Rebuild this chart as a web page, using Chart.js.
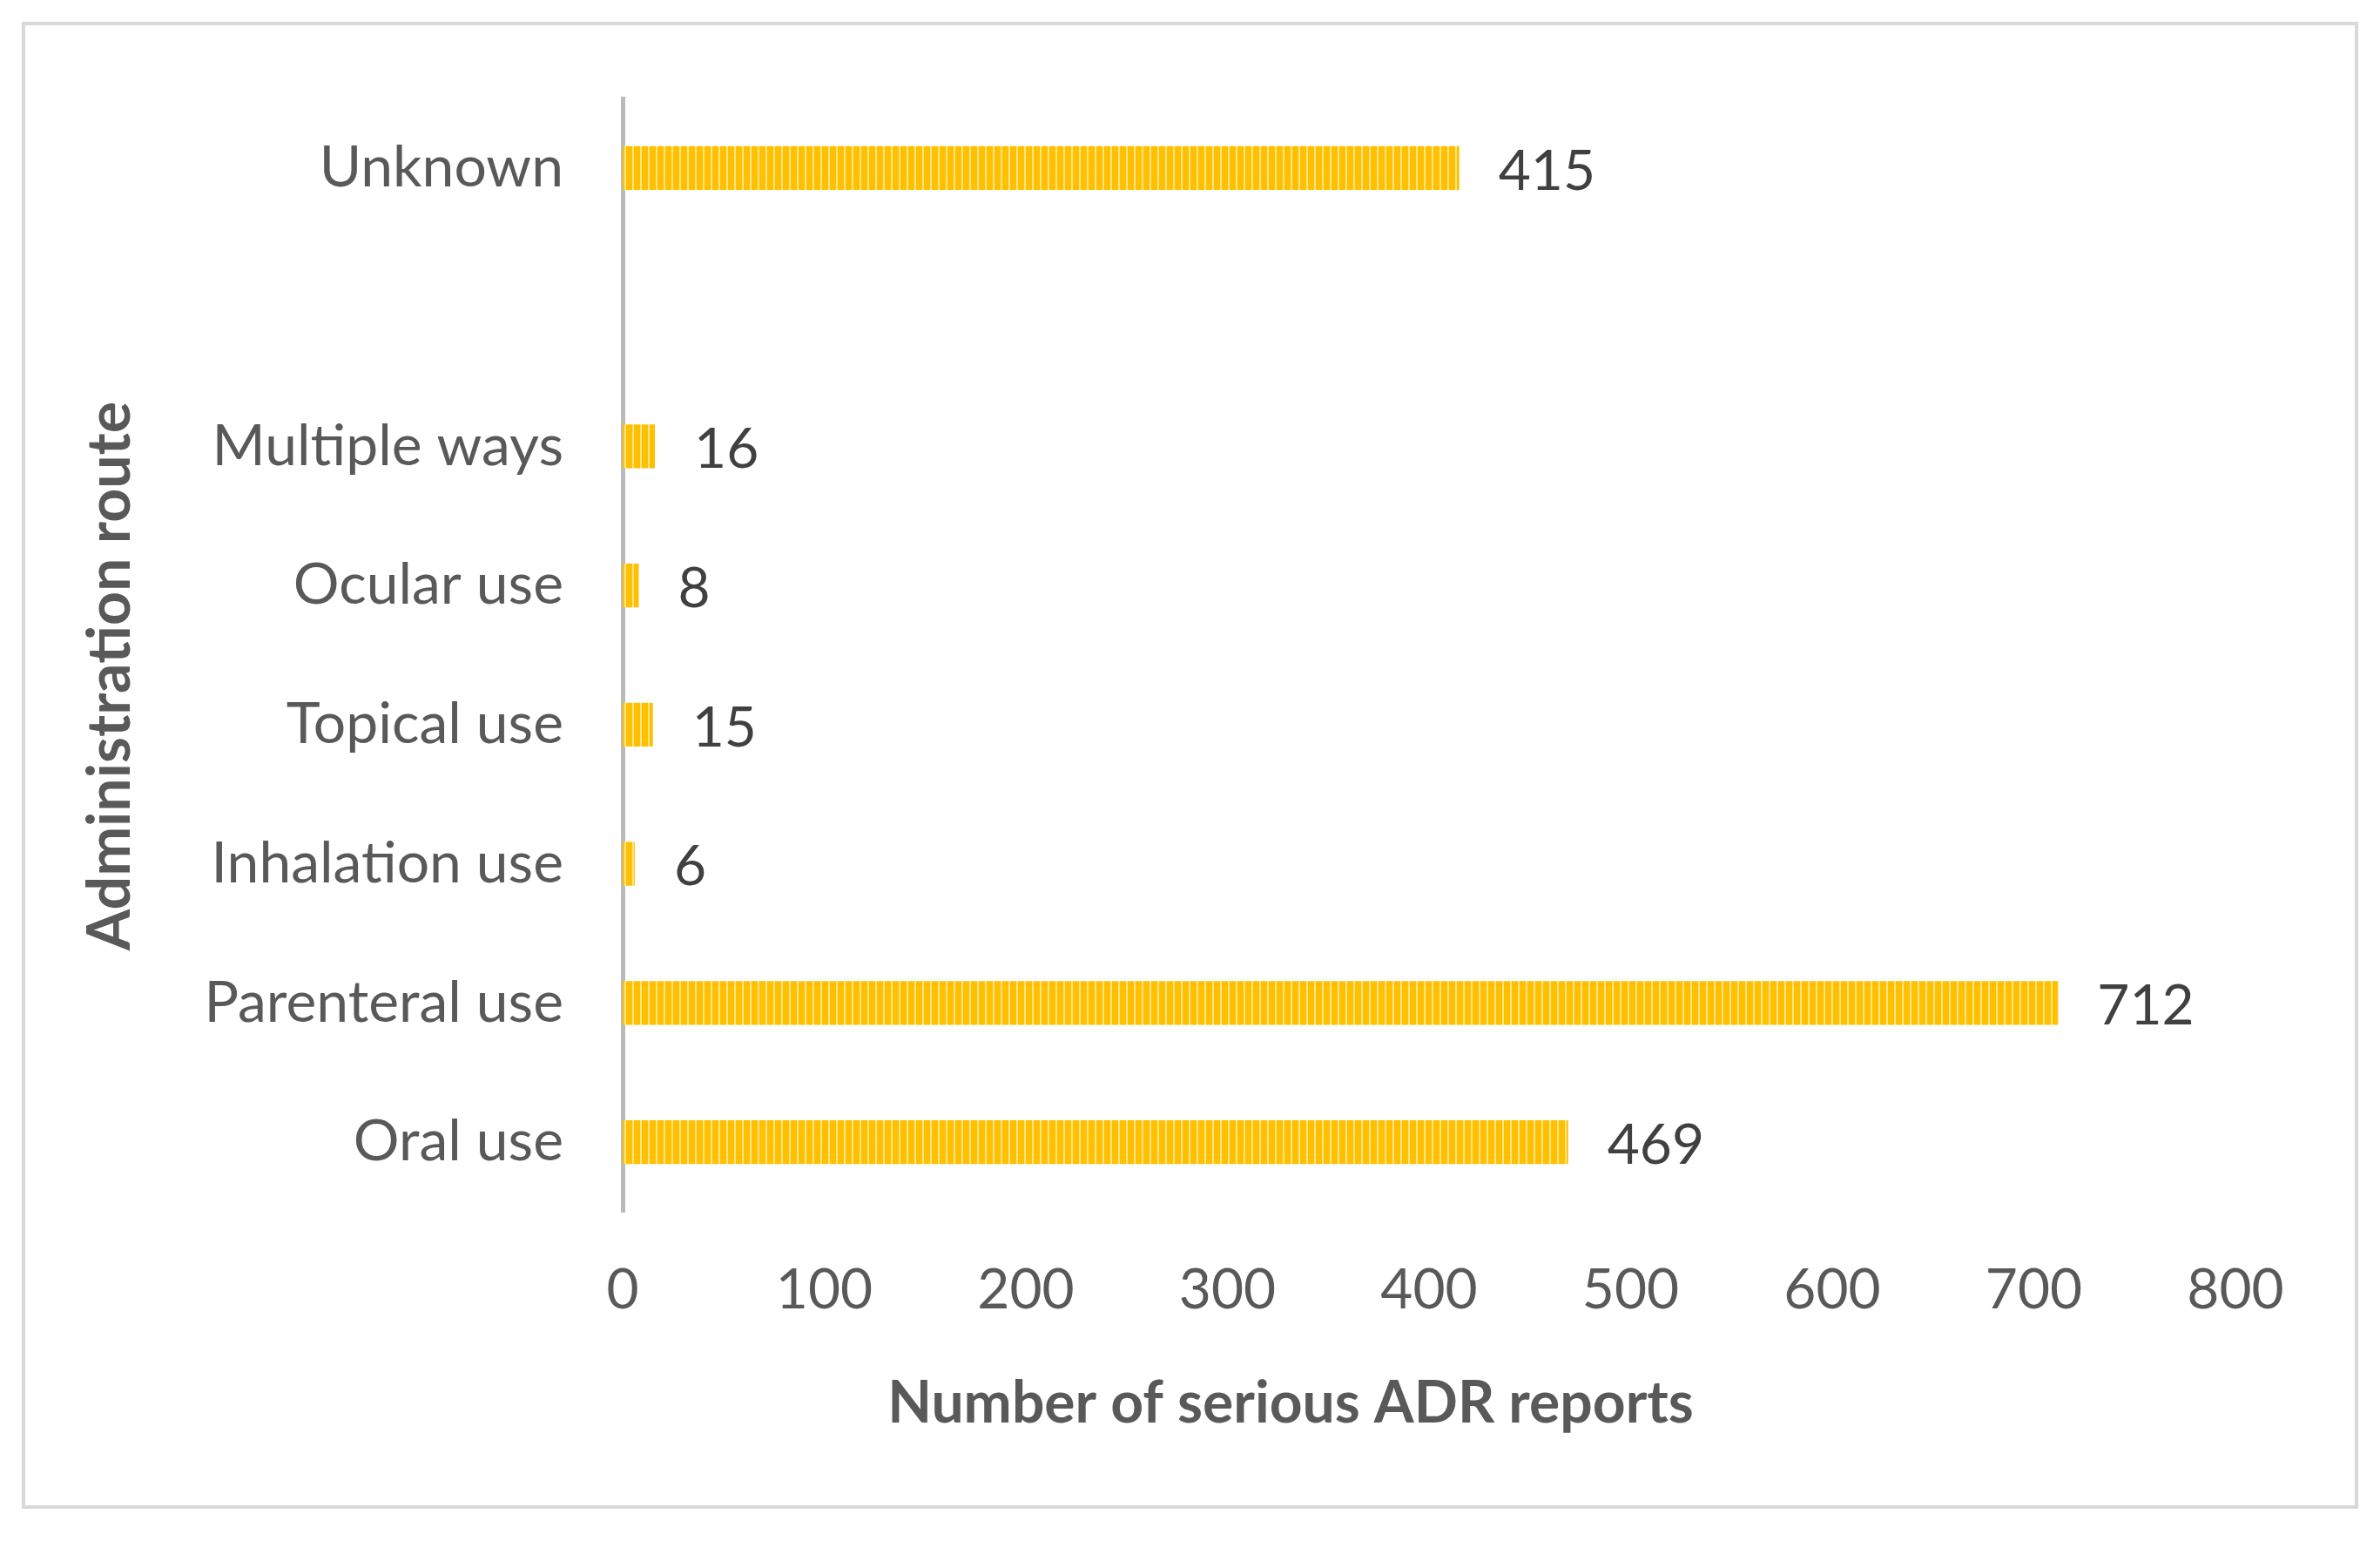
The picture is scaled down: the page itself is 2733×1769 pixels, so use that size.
<!DOCTYPE html>
<html>
<head>
<meta charset="utf-8">
<script src="https://cdn.jsdelivr.net/npm/chart.js@4.4.1/dist/chart.umd.min.js"></script>
<style>
  html, body { margin: 0; padding: 0; background: #ffffff; }
  #wrap { width: 2733px; height: 1769px; position: relative; }
</style>
</head>
<body>
<div id="wrap"><canvas id="routeChart"></canvas></div>
<script>
// --- DATA ---
const routes = ["Unknown", "", "Multiple ways", "Ocular use", "Topical use", "Inhalation use", "Parenteral use", "Oral use"];
const reportCounts = [415, null, 16, 8, 15, 6, 712, 469];
const xTicks = [0, 100, 200, 300, 400, 500, 600, 700, 800];
const xTitle = "Number of serious ADR reports";
const yTitle = "Administration route";

const fontFamily = "Lato, 'Open Sans', sans-serif";

// striped gold fill, like the Office pattern fill
function makeStripes() {
    const tile = document.createElement("canvas");
    tile.width = 9;
    tile.height = 10;
    const t = tile.getContext("2d");
    t.fillStyle = "#FFC000";
    t.fillRect(0, 0, 9, 10);
    t.fillStyle = "#FFE38A";
    t.fillRect(6, 0, 2, 10);
    return document.getElementById("routeChart").getContext("2d").createPattern(tile, "repeat");
}

// value labels at the end of each bar
const valueLabels = {
    id: "valueLabels",
    afterDatasetsDraw(chart) {
        const ctx = chart.ctx;
        const meta = chart.getDatasetMeta(0);
        ctx.save();
        ctx.font = "64px " + fontFamily;
        ctx.fillStyle = "#404040";
        ctx.textAlign = "left";
        ctx.textBaseline = "middle";
        meta.data.forEach((bar, i) => {
            const v = reportCounts[i];
            if (v === null) return;
            ctx.fillText(String(v), bar.x + 45, bar.y + 4);
        });
        ctx.restore();
    }
};

// frame + axis titles
const frameAndTitles = {
    id: "frameAndTitles",
    beforeDraw(chart) {
        const ctx = chart.ctx;
        ctx.save();
        ctx.strokeStyle = "#d9d9d9";
        ctx.lineWidth = 4;
        ctx.strokeRect(27, 27, 2679, 1703);
        ctx.restore();
    },
    afterDraw(chart) {
        const ctx = chart.ctx;
        ctx.save();
        ctx.fillStyle = "#595959";
        ctx.textAlign = "center";
        ctx.textBaseline = "middle";
        ctx.font = "bold 66px " + fontFamily;
        ctx.fillText(xTitle, 1482, 1612);
        ctx.font = "bold 68px " + fontFamily;
        ctx.translate(127, 776);
        ctx.rotate(-Math.PI / 2);
        ctx.fillText(yTitle, 0, 0);
        ctx.restore();
    }
};

new Chart(document.getElementById("routeChart"), {
    type: "bar",
    data: {
        labels: routes,
        datasets: [{
            data: reportCounts,
            backgroundColor: makeStripes(),
            borderWidth: 0,
            barPercentage: 0.9,
            categoryPercentage: 0.35
        }]
    },
    options: {
        indexAxis: "y",
        responsive: true,
        maintainAspectRatio: false,
        animation: false,
        layout: { padding: { top: 113, right: 166, left: 0, bottom: 0 } },
        plugins: { legend: { display: false }, tooltip: { enabled: false } },
        scales: {
            x: {
                min: 0,
                max: 800,
                afterBuildTicks: (scale) => { scale.ticks = xTicks.map(v => ({ value: v })); },
                afterFit: (scale) => { scale.height = 1769 - 1391; },
                grid: { display: false, drawTicks: false },
                border: { display: false },
                ticks: {
                    padding: 52,
                    color: "#595959",
                    font: { family: fontFamily, size: 64 }
                }
            },
            y: {
                afterFit: (scale) => { scale.width = 715; },
                grid: { display: false, drawTicks: false },
                border: { display: true, color: "#bababa", width: 5 },
                ticks: {
                    padding: 68,
                    color: "#595959",
                    font: { family: fontFamily, size: 66 }
                }
            }
        }
    },
    plugins: [valueLabels, frameAndTitles]
});
</script>
</body>
</html>
